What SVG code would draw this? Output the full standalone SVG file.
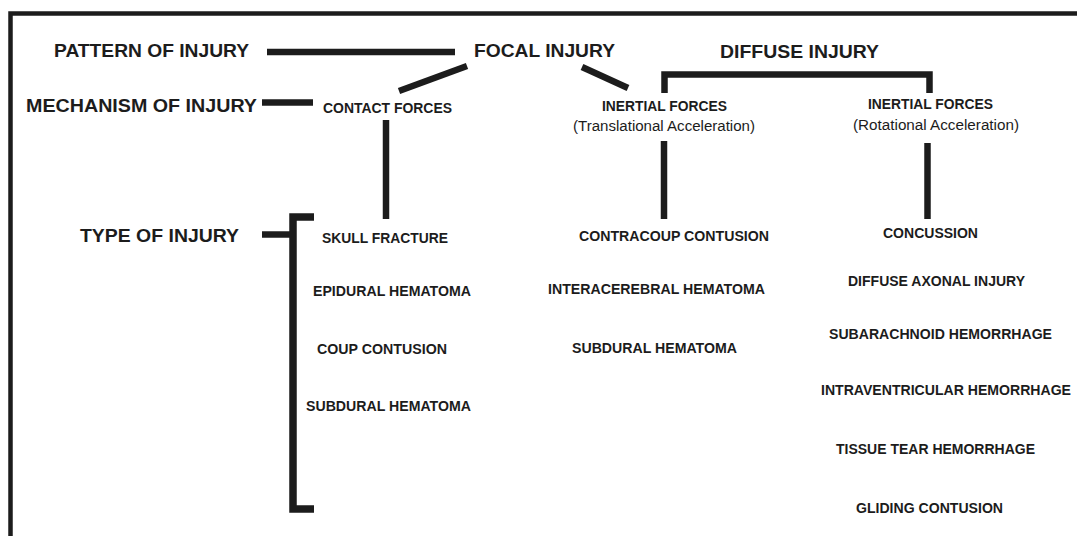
<svg xmlns="http://www.w3.org/2000/svg" width="1077" height="536" viewBox="0 0 1077 536">
<style>
  .t { font-family: "Liberation Sans", Arial, sans-serif; font-weight: bold; fill: #1c1c1c; }
  .big { font-size: 19px; }
  .sm { font-size: 14px; }
  .par { font-size: 14px; font-weight: normal; }
  .ln { stroke: #1c1c1c; fill: none; stroke-linecap: butt; stroke-linejoin: miter; }
  .w6 { stroke-width: 6.5; }
</style>
<rect width="1077" height="536" fill="#ffffff"/>
<path class="ln" d="M10.5,536 V13.5 H1077" stroke-width="4.5"/>

<g id="connectors">
  <path class="ln w6" d="M267,52 H455"/>
  <path class="ln w6" d="M262,102.5 H313"/>
  <path class="ln w6" d="M467,66 L399,91"/>
  <path class="ln w6" d="M582,67 L628,88"/>
  <path class="ln w6" d="M386,120 V219"/>
  <path class="ln w6" d="M664.5,93 V74.5 H929.5 V93"/>
  <path class="ln w6" d="M664,141 V219"/>
  <path class="ln w6" d="M927.5,143 V219"/>
  <path class="ln" stroke-width="7.5" d="M314,217 H293 V509 H314"/>
  <path class="ln w6" d="M262,234.5 H293"/>
</g>

<g id="pattern"><text class="t big" x="54" y="56.5" textLength="195" lengthAdjust="spacingAndGlyphs">PATTERN OF INJURY</text></g>
<g id="mechanism"><text class="t big" x="26" y="111.5" textLength="231" lengthAdjust="spacingAndGlyphs">MECHANISM OF INJURY</text></g>
<g id="type"><text class="t big" x="80" y="242" textLength="159" lengthAdjust="spacingAndGlyphs">TYPE OF INJURY</text></g>
<g id="focal"><text class="t big" x="474" y="56.5" textLength="141" lengthAdjust="spacingAndGlyphs">FOCAL INJURY</text></g>
<g id="diffuse"><text class="t big" x="720" y="58" textLength="159" lengthAdjust="spacingAndGlyphs">DIFFUSE INJURY</text></g>

<g id="contact"><text class="t sm" x="323" y="112.5" textLength="129" lengthAdjust="spacingAndGlyphs">CONTACT FORCES</text></g>
<g id="inertial-trans">
  <text class="t sm" x="602" y="111" textLength="125" lengthAdjust="spacingAndGlyphs">INERTIAL FORCES</text>
  <text class="t par" x="573" y="131" textLength="182" lengthAdjust="spacingAndGlyphs">(Translational Acceleration)</text>
</g>
<g id="inertial-rot">
  <text class="t sm" x="868" y="109" textLength="125" lengthAdjust="spacingAndGlyphs">INERTIAL FORCES</text>
  <text class="t par" x="853" y="130" textLength="166" lengthAdjust="spacingAndGlyphs">(Rotational Acceleration)</text>
</g>

<g id="focal-types">
  <text class="t sm" x="322" y="242.5" textLength="126" lengthAdjust="spacingAndGlyphs">SKULL FRACTURE</text>
  <text class="t sm" x="313" y="296" textLength="158" lengthAdjust="spacingAndGlyphs">EPIDURAL HEMATOMA</text>
  <text class="t sm" x="317" y="354" textLength="130" lengthAdjust="spacingAndGlyphs">COUP CONTUSION</text>
  <text class="t sm" x="306" y="410.5" textLength="165" lengthAdjust="spacingAndGlyphs">SUBDURAL HEMATOMA</text>
</g>
<g id="trans-types">
  <text class="t sm" x="579" y="241" textLength="190" lengthAdjust="spacingAndGlyphs">CONTRACOUP CONTUSION</text>
  <text class="t sm" x="548" y="294" textLength="217" lengthAdjust="spacingAndGlyphs">INTERACEREBRAL HEMATOMA</text>
  <text class="t sm" x="572" y="352.5" textLength="165" lengthAdjust="spacingAndGlyphs">SUBDURAL HEMATOMA</text>
</g>
<g id="rot-types">
  <text class="t sm" x="883" y="237.5" textLength="95" lengthAdjust="spacingAndGlyphs">CONCUSSION</text>
  <text class="t sm" x="848" y="286" textLength="177" lengthAdjust="spacingAndGlyphs">DIFFUSE AXONAL INJURY</text>
  <text class="t sm" x="829" y="339" textLength="223" lengthAdjust="spacingAndGlyphs">SUBARACHNOID HEMORRHAGE</text>
  <text class="t sm" x="821" y="395" textLength="250" lengthAdjust="spacingAndGlyphs">INTRAVENTRICULAR HEMORRHAGE</text>
  <text class="t sm" x="836" y="454" textLength="199" lengthAdjust="spacingAndGlyphs">TISSUE TEAR HEMORRHAGE</text>
  <text class="t sm" x="856" y="512.5" textLength="147" lengthAdjust="spacingAndGlyphs">GLIDING CONTUSION</text>
</g>
</svg>
